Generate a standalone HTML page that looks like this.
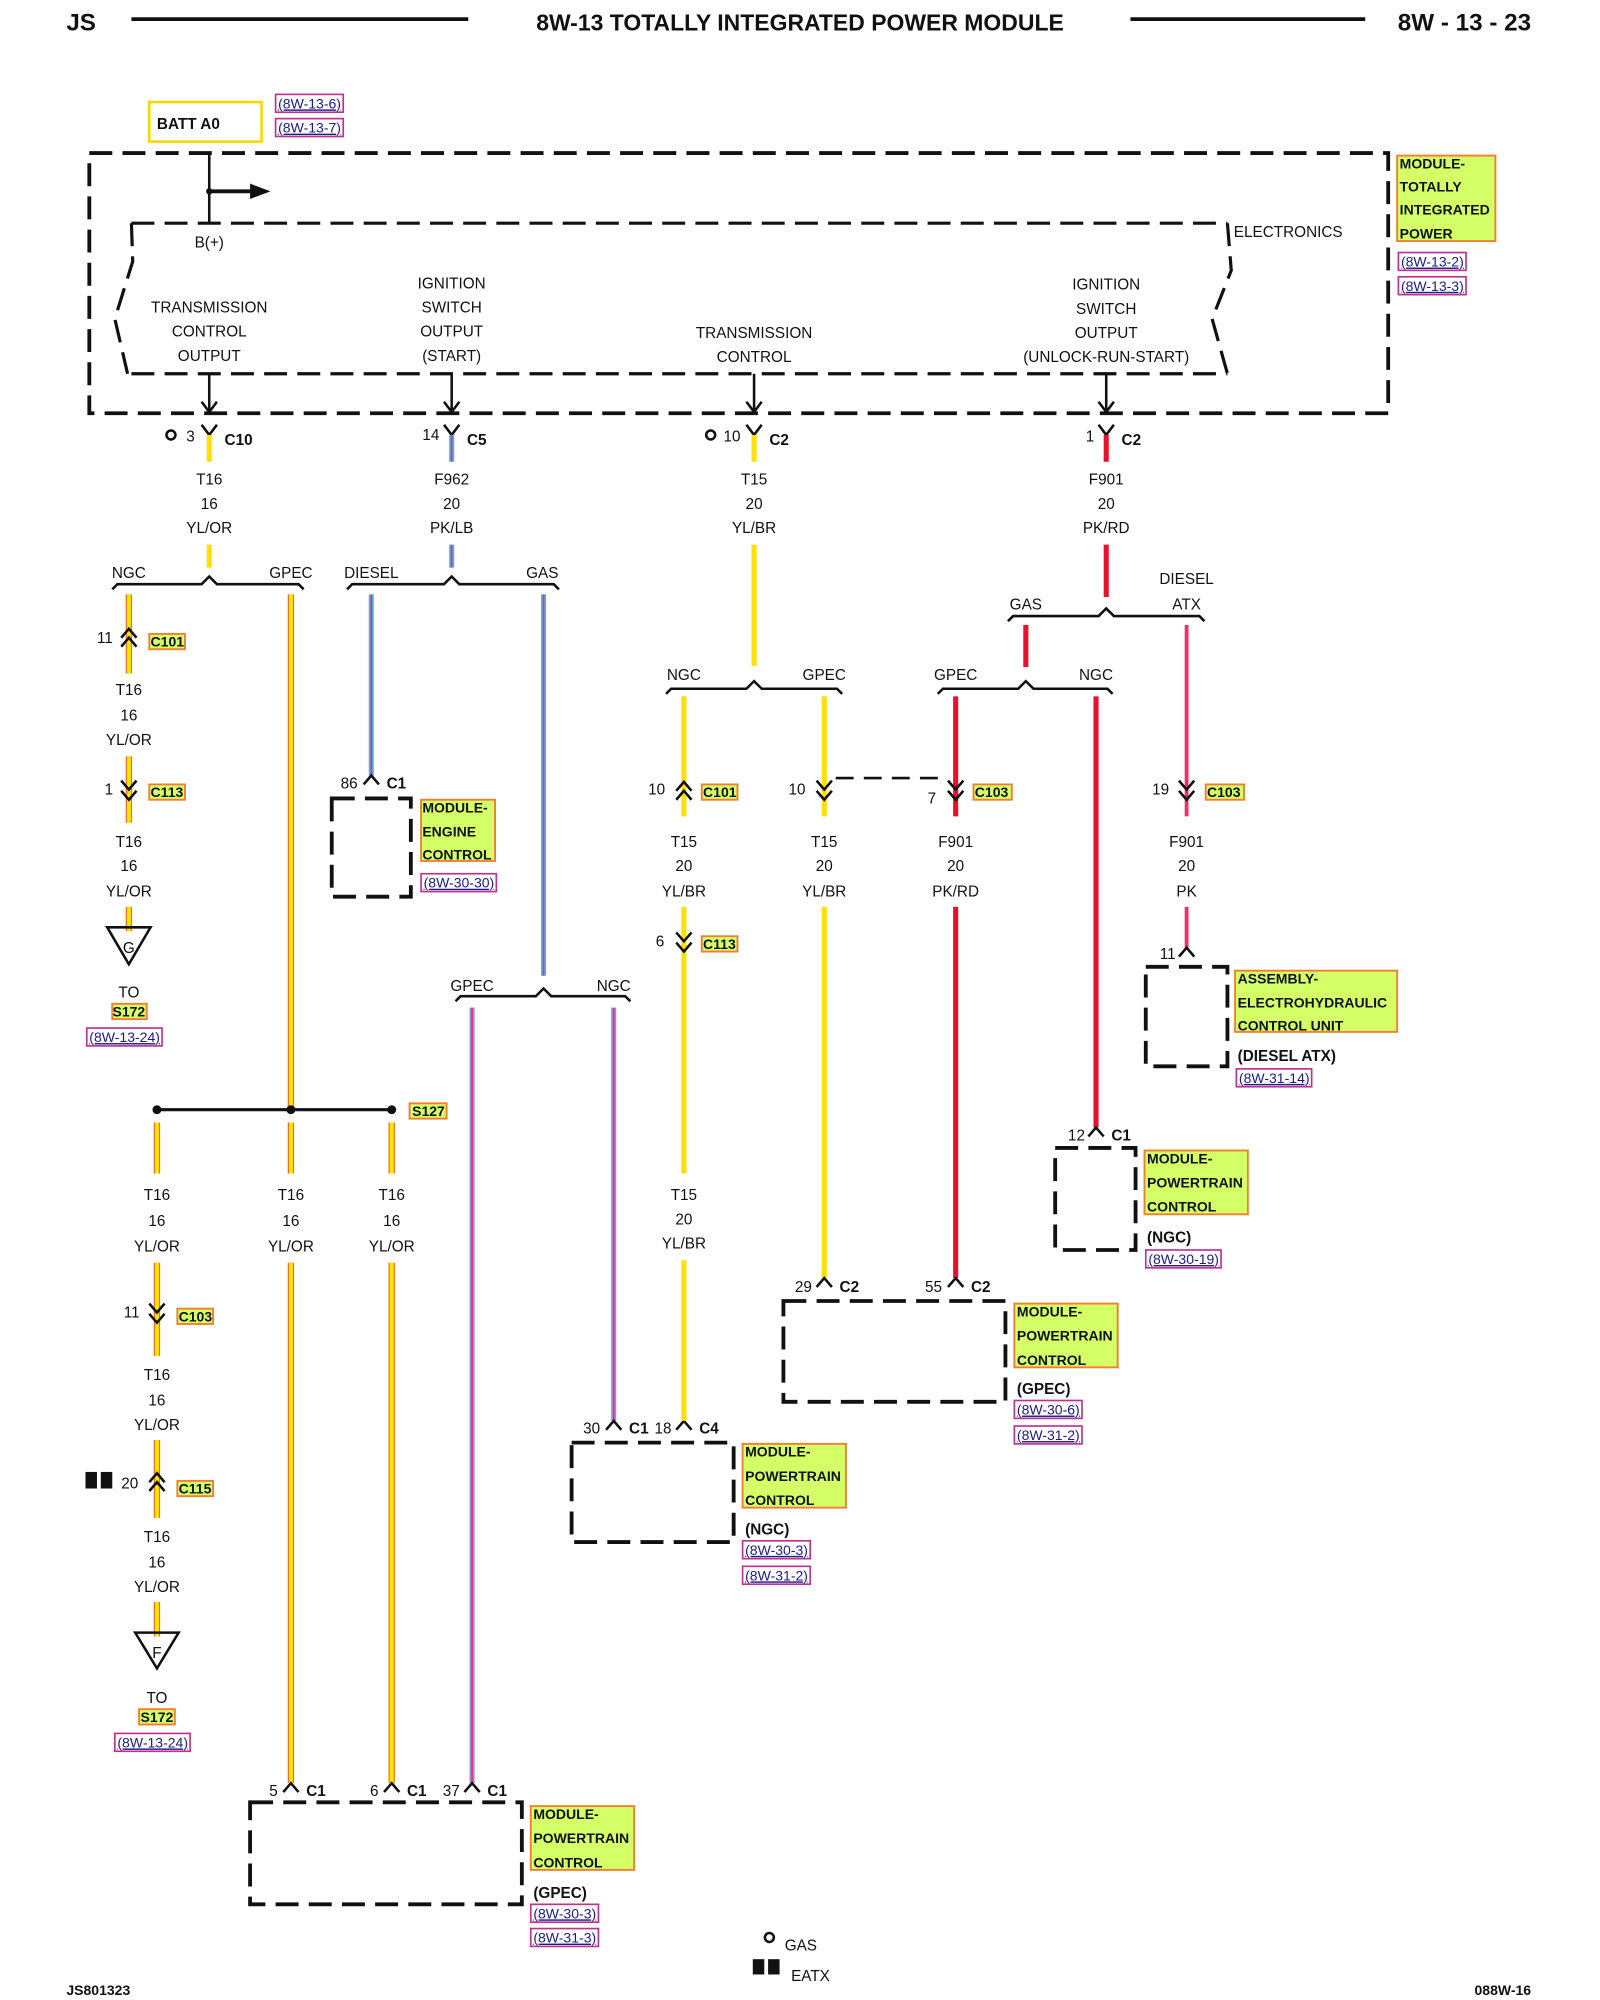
<!DOCTYPE html>
<html><head><meta charset="utf-8"><style>
html,body{margin:0;padding:0;background:#fff;}
svg{display:block;}
text{font-family:"Liberation Sans",sans-serif;font-size:12px;fill:#111;}
.m{text-anchor:middle;}
.b{font-weight:bold;}
.h{font-weight:bold;font-size:19px;}
.r{font-size:11px;fill:#1a1a8c;text-decoration:underline;}
.d{fill:none;stroke:#111;stroke-width:3;stroke-dasharray:18 8;}
.k{fill:none;stroke:#111;stroke-width:2;}
.hl{fill:#d4ff66;stroke:#f08030;stroke-width:1.5;}
.rb{fill:none;stroke:#c03090;stroke-width:1.3;}
.yo1{stroke:#f07020;stroke-width:5;}
.yo2{stroke:#ffe800;stroke-width:3;}
.yb{stroke:#ffe000;stroke-width:4;}
.rd{stroke:#e8102a;stroke-width:4;}
.pk{stroke:#f0306a;stroke-width:3;}
.lb{stroke:#40b8f0;stroke-width:4;}
.lbp{stroke:#f0306a;stroke-width:1.3;}
</style></head><body>
<svg width="1600" height="2000" viewBox="0 0 1254 1568" preserveAspectRatio="none" xmlns="http://www.w3.org/2000/svg">
<!-- header -->
<text x="52" y="24" class="h">JS</text>
<line x1="103" y1="15" x2="367" y2="15" stroke="#111" stroke-width="3"/>
<text x="627" y="24" class="h m" style="font-size:18px">8W-13 TOTALLY INTEGRATED POWER MODULE</text>
<line x1="886" y1="15" x2="1070" y2="15" stroke="#111" stroke-width="3"/>
<text x="1200" y="24" class="h" text-anchor="end">8W - 13 - 23</text>

<!-- BATT -->
<rect x="117" y="80" width="88" height="31" fill="none" stroke="#f5d800" stroke-width="2"/>
<text x="123" y="101" class="b">BATT A0</text>
<rect x="216" y="74" width="53" height="14" class="rb"/><text x="218" y="85" class="r">(8W-13-6)</text>
<rect x="216" y="93" width="53" height="14" class="rb"/><text x="218" y="104" class="r">(8W-13-7)</text>

<!-- module outline -->
<rect x="70" y="120" width="1018" height="204" class="d"/>
<line x1="164" y1="120" x2="164" y2="175" stroke="#111" stroke-width="2"/>
<circle cx="164" cy="150" r="2.5" fill="#111"/>
<line x1="164" y1="150" x2="198" y2="150" stroke="#111" stroke-width="3"/>
<path d="M196 144 L212 150 L196 156 Z" fill="#111"/>
<path d="M103 175 L962 175 M103 293 L962 293" class="d" style="stroke-width:2.5"/>
<path d="M103 175 L104 205 L90 250 L100 293" class="d" style="stroke-width:2.5"/>
<path d="M962 175 L965 212 L950 250 L962 293" class="d" style="stroke-width:2.5"/>
<text x="967" y="186">ELECTRONICS</text>
<text x="164" y="194" class="m">B(+)</text>
<text x="164" y="245" class="m">TRANSMISSION</text><text x="164" y="264" class="m">CONTROL</text><text x="164" y="283" class="m">OUTPUT</text>
<text x="354" y="226" class="m">IGNITION</text><text x="354" y="245" class="m">SWITCH</text><text x="354" y="264" class="m">OUTPUT</text><text x="354" y="283" class="m">(START)</text>
<text x="591" y="265" class="m">TRANSMISSION</text><text x="591" y="284" class="m">CONTROL</text>
<text x="867" y="227" class="m">IGNITION</text><text x="867" y="246" class="m">SWITCH</text><text x="867" y="265" class="m">OUTPUT</text><text x="867" y="284" class="m">(UNLOCK-RUN-START)</text>
<g class="k">
<path d="M164 293 V323 M158 315 L164 323 L170 315"/>
<path d="M354 293 V323 M348 315 L354 323 L360 315"/>
<path d="M591 293 V323 M585 315 L591 323 L597 315"/>
<path d="M867 293 V323 M861 315 L867 323 L873 315"/>
</g>
<rect x="1095" y="122" width="77" height="67" class="hl"/>
<text x="1097" y="132" class="b" style="font-size:11px">MODULE-</text>
<text x="1097" y="150" class="b" style="font-size:11px">TOTALLY</text>
<text x="1097" y="168" class="b" style="font-size:11px">INTEGRATED</text>
<text x="1097" y="187" class="b" style="font-size:11px">POWER</text>
<rect x="1096" y="198" width="53" height="14" class="rb"/><text x="1098" y="209" class="r">(8W-13-2)</text>
<rect x="1096" y="217" width="53" height="14" class="rb"/><text x="1098" y="228" class="r">(8W-13-3)</text>

<!-- top connectors -->
<g class="k">
<path d="M158 333 L164 341 L170 333"/><path d="M348 333 L354 341 L360 333"/>
<path d="M585 333 L591 341 L597 333"/><path d="M861 333 L867 341 L873 333"/>
</g>
<line x1="164" y1="341" x2="164" y2="362" class="yb"/>
<line x1="354" y1="341" x2="354" y2="362" class="lb"/><line x1="354" y1="341" x2="354" y2="362" class="lbp"/>
<line x1="591" y1="341" x2="591" y2="362" class="yb"/>
<line x1="867" y1="341" x2="867" y2="362" class="rd"/>
<circle cx="134" cy="341" r="3.5" fill="none" stroke="#111" stroke-width="2"/>
<text x="146" y="346">3</text><text x="176" y="349" class="b">C10</text>
<text x="331" y="345">14</text><text x="366" y="349" class="b">C5</text>
<circle cx="557" cy="341" r="3.5" fill="none" stroke="#111" stroke-width="2"/>
<text x="567" y="346">10</text><text x="603" y="349" class="b">C2</text>
<text x="851" y="346">1</text><text x="879" y="349" class="b">C2</text>
<text x="164" y="380" class="m">T16</text><text x="164" y="399" class="m">16</text><text x="164" y="418" class="m">YL/OR</text>
<text x="354" y="380" class="m">F962</text><text x="354" y="399" class="m">20</text><text x="354" y="418" class="m">PK/LB</text>
<text x="591" y="380" class="m">T15</text><text x="591" y="399" class="m">20</text><text x="591" y="418" class="m">YL/BR</text>
<text x="867" y="380" class="m">F901</text><text x="867" y="399" class="m">20</text><text x="867" y="418" class="m">PK/RD</text>
<line x1="164" y1="427" x2="164" y2="445" class="yb"/>
<line x1="354" y1="427" x2="354" y2="445" class="lb"/><line x1="354" y1="427" x2="354" y2="445" class="lbp"/>
<line x1="591" y1="427" x2="591" y2="522" class="yb"/>
<line x1="867" y1="427" x2="867" y2="468" class="rd"/>

<!-- braces -->
<g class="k">
<path d="M88 462 L92 458 L158 458 L164 452 L170 458 L234 458 L238 462"/>
<path d="M272 462 L276 458 L348 458 L354 452 L360 458 L434 458 L438 462"/>
<path d="M357 785 L361 781 L420 781 L426 775 L432 781 L490 781 L494 785"/>
<path d="M522 544 L526 540 L585 540 L591 534 L597 540 L656 540 L660 544"/>
<path d="M790 487 L794 483 L861 483 L867 477 L873 483 L940 483 L944 487"/>
<path d="M735 544 L739 540 L798 540 L804 534 L810 540 L868 540 L872 544"/>
</g>
<text x="101" y="453" class="m">NGC</text><text x="228" y="453" class="m">GPEC</text>
<text x="291" y="453" class="m">DIESEL</text><text x="425" y="453" class="m">GAS</text>
<text x="370" y="777" class="m">GPEC</text><text x="481" y="777" class="m">NGC</text>
<text x="536" y="533" class="m">NGC</text><text x="646" y="533" class="m">GPEC</text>
<text x="804" y="478" class="m">GAS</text><text x="930" y="458" class="m">DIESEL</text><text x="930" y="478" class="m">ATX</text>
<text x="749" y="533" class="m">GPEC</text><text x="859" y="533" class="m">NGC</text>

<!-- NGC left column -->
<line x1="101" y1="466" x2="101" y2="528" class="yo1"/><line x1="101" y1="466" x2="101" y2="528" class="yo2"/>
<path d="M95 500 L101 493 L107 500 M95 507 L101 500 L107 507" class="k"/>
<text x="76" y="504">11</text>
<rect x="117" y="497" width="28" height="12" class="hl"/><text x="118" y="507" class="b" style="font-size:11px">C101</text>
<text x="101" y="545" class="m">T16</text><text x="101" y="565" class="m">16</text><text x="101" y="584" class="m">YL/OR</text>
<line x1="101" y1="593" x2="101" y2="645" class="yo1"/><line x1="101" y1="593" x2="101" y2="645" class="yo2"/>
<path d="M95 612 L101 619 L107 612 M95 620 L101 627 L107 620" class="k"/>
<text x="82" y="623">1</text>
<rect x="117" y="615" width="28" height="12" class="hl"/><text x="118" y="625" class="b" style="font-size:11px">C113</text>
<text x="101" y="664" class="m">T16</text><text x="101" y="683" class="m">16</text><text x="101" y="703" class="m">YL/OR</text>
<line x1="101" y1="711" x2="101" y2="730" class="yo1"/><line x1="101" y1="711" x2="101" y2="730" class="yo2"/>
<path d="M84 727 L118 727 L101 756 Z" class="k"/>
<text x="101" y="747" class="m">G</text>
<text x="101" y="782" class="m">TO</text>
<rect x="88" y="787" width="27" height="12" class="hl"/><text x="101" y="797" class="m b" style="font-size:11px">S172</text>
<rect x="68" y="806" width="59" height="14" class="rb"/><text x="70" y="817" class="r">(8W-13-24)</text>

<!-- GPEC left -->
<line x1="228" y1="466" x2="228" y2="868" class="yo1"/><line x1="228" y1="466" x2="228" y2="868" class="yo2"/>
<line x1="123" y1="870" x2="307" y2="870" stroke="#111" stroke-width="2.5"/>
<circle cx="123" cy="870" r="3.5" fill="#111"/><circle cx="228" cy="870" r="3.5" fill="#111"/><circle cx="307" cy="870" r="3.5" fill="#111"/>
<rect x="321" y="865" width="29" height="12" class="hl"/><text x="323" y="875" class="b" style="font-size:11px">S127</text>
<g>
<line x1="123" y1="880" x2="123" y2="920" class="yo1"/><line x1="123" y1="880" x2="123" y2="920" class="yo2"/>
<line x1="228" y1="880" x2="228" y2="920" class="yo1"/><line x1="228" y1="880" x2="228" y2="920" class="yo2"/>
<line x1="307" y1="880" x2="307" y2="920" class="yo1"/><line x1="307" y1="880" x2="307" y2="920" class="yo2"/>
</g>
<text x="123" y="941" class="m">T16</text><text x="123" y="961" class="m">16</text><text x="123" y="981" class="m">YL/OR</text>
<text x="228" y="941" class="m">T16</text><text x="228" y="961" class="m">16</text><text x="228" y="981" class="m">YL/OR</text>
<text x="307" y="941" class="m">T16</text><text x="307" y="961" class="m">16</text><text x="307" y="981" class="m">YL/OR</text>
<line x1="123" y1="990" x2="123" y2="1063" class="yo1"/><line x1="123" y1="990" x2="123" y2="1063" class="yo2"/>
<path d="M117 1022 L123 1029 L129 1022 M117 1030 L123 1037 L129 1030" class="k"/>
<text x="97" y="1033">11</text>
<rect x="139" y="1026" width="28" height="12" class="hl"/><text x="140" y="1036" class="b" style="font-size:11px">C103</text>
<text x="123" y="1082" class="m">T16</text><text x="123" y="1102" class="m">16</text><text x="123" y="1121" class="m">YL/OR</text>
<line x1="123" y1="1129" x2="123" y2="1190" class="yo1"/><line x1="123" y1="1129" x2="123" y2="1190" class="yo2"/>
<path d="M117 1162 L123 1155 L129 1162 M117 1169 L123 1162 L129 1169" class="k"/>
<rect x="67" y="1154" width="9" height="13" fill="#111"/><rect x="79" y="1154" width="9" height="13" fill="#111"/>
<text x="95" y="1167">20</text>
<rect x="139" y="1161" width="28" height="12" class="hl"/><text x="140" y="1171" class="b" style="font-size:11px">C115</text>
<text x="123" y="1209" class="m">T16</text><text x="123" y="1229" class="m">16</text><text x="123" y="1248" class="m">YL/OR</text>
<line x1="123" y1="1256" x2="123" y2="1283" class="yo1"/><line x1="123" y1="1256" x2="123" y2="1283" class="yo2"/>
<path d="M106 1280 L140 1280 L123 1308 Z" class="k"/>
<text x="123" y="1300" class="m">F</text>
<text x="123" y="1335" class="m">TO</text>
<rect x="109" y="1340" width="28" height="12" class="hl"/><text x="123" y="1350" class="m b" style="font-size:11px">S172</text>
<rect x="90" y="1359" width="59" height="14" class="rb"/><text x="92" y="1370" class="r">(8W-13-24)</text>
<line x1="228" y1="990" x2="228" y2="1398" class="yo1"/><line x1="228" y1="990" x2="228" y2="1398" class="yo2"/>
<line x1="307" y1="990" x2="307" y2="1398" class="yo1"/><line x1="307" y1="990" x2="307" y2="1398" class="yo2"/>
<line x1="370" y1="790" x2="370" y2="1398" class="lb" style="stroke:#9090e0"/><line x1="370" y1="790" x2="370" y2="1398" class="lbp"/>
<g class="k">
<path d="M222 1405 L228 1398 L234 1405"/><path d="M301 1405 L307 1398 L313 1405"/><path d="M364 1405 L370 1398 L376 1405"/>
</g>
<text x="211" y="1408">5</text><text x="240" y="1408" class="b">C1</text>
<text x="290" y="1408">6</text><text x="319" y="1408" class="b">C1</text>
<text x="347" y="1408">37</text><text x="382" y="1408" class="b">C1</text>
<rect x="196" y="1413" width="213" height="80" class="d"/>
<rect x="416" y="1416" width="81" height="50" class="hl"/>
<text x="418" y="1426" class="b" style="font-size:11px">MODULE-</text>
<text x="418" y="1445" class="b" style="font-size:11px">POWERTRAIN</text>
<text x="418" y="1464" class="b" style="font-size:11px">CONTROL</text>
<text x="418" y="1488" class="b">(GPEC)</text>
<rect x="416" y="1493" width="53" height="14" class="rb"/><text x="418" y="1504" class="r">(8W-30-3)</text>
<rect x="416" y="1512" width="53" height="14" class="rb"/><text x="418" y="1523" class="r">(8W-31-3)</text>

<!-- DIESEL/GAS -->
<line x1="291" y1="466" x2="291" y2="608" class="lb"/><line x1="291" y1="466" x2="291" y2="608" class="lbp"/>
<path d="M285 615 L291 608 L297 615" class="k"/>
<text x="267" y="618">86</text><text x="303" y="618" class="b">C1</text>
<rect x="260" y="626" width="62" height="77" class="d"/>
<rect x="330" y="627" width="58" height="48" class="hl"/>
<text x="331" y="637" class="b" style="font-size:11px">MODULE-</text>
<text x="331" y="656" class="b" style="font-size:11px">ENGINE</text>
<text x="331" y="674" class="b" style="font-size:11px">CONTROL</text>
<rect x="330" y="685" width="59" height="14" class="rb"/><text x="332" y="696" class="r">(8W-30-30)</text>
<line x1="426" y1="466" x2="426" y2="765" class="lb"/><line x1="426" y1="466" x2="426" y2="765" class="lbp"/>
<line x1="481" y1="790" x2="481" y2="1114" class="lb" style="stroke:#9090e0"/><line x1="481" y1="790" x2="481" y2="1114" class="lbp"/>
<path d="M475 1121 L481 1114 L487 1121 M530 1121 L536 1114 L542 1121" class="k"/>
<text x="457" y="1124">30</text><text x="493" y="1124" class="b">C1</text>
<text x="513" y="1124">18</text><text x="548" y="1124" class="b">C4</text>
<rect x="448" y="1131" width="127" height="78" class="d"/>
<rect x="582" y="1132" width="81" height="50" class="hl"/>
<text x="584" y="1142" class="b" style="font-size:11px">MODULE-</text>
<text x="584" y="1161" class="b" style="font-size:11px">POWERTRAIN</text>
<text x="584" y="1180" class="b" style="font-size:11px">CONTROL</text>
<text x="584" y="1203" class="b">(NGC)</text>
<rect x="582" y="1208" width="53" height="14" class="rb"/><text x="584" y="1219" class="r">(8W-30-3)</text>
<rect x="582" y="1228" width="53" height="14" class="rb"/><text x="584" y="1239" class="r">(8W-31-2)</text>

<!-- col 591 -->
<line x1="536" y1="546" x2="536" y2="640" class="yb"/>
<path d="M530 620 L536 613 L542 620 M530 627 L536 620 L542 627" class="k"/>
<text x="508" y="623">10</text>
<rect x="550" y="615" width="28" height="12" class="hl"/><text x="551" y="625" class="b" style="font-size:11px">C101</text>
<text x="536" y="664" class="m">T15</text><text x="536" y="683" class="m">20</text><text x="536" y="703" class="m">YL/BR</text>
<line x1="536" y1="711" x2="536" y2="920" class="yb"/>
<path d="M530 731 L536 738 L542 731 M530 739 L536 746 L542 739" class="k"/>
<text x="514" y="742">6</text>
<rect x="550" y="734" width="28" height="12" class="hl"/><text x="551" y="744" class="b" style="font-size:11px">C113</text>
<text x="536" y="941" class="m">T15</text><text x="536" y="960" class="m">20</text><text x="536" y="979" class="m">YL/BR</text>
<line x1="536" y1="988" x2="536" y2="1114" class="yb"/>
<line x1="646" y1="546" x2="646" y2="640" class="yb"/>
<path d="M640 612 L646 619 L652 612 M640 620 L646 627 L652 620" class="k"/>
<text x="618" y="623">10</text>
<line x1="655" y1="610" x2="738" y2="610" stroke="#111" stroke-width="2" stroke-dasharray="14 8"/>
<text x="646" y="664" class="m">T15</text><text x="646" y="683" class="m">20</text><text x="646" y="703" class="m">YL/BR</text>
<line x1="646" y1="711" x2="646" y2="1002" class="yb"/>

<!-- col 867 -->
<line x1="804" y1="490" x2="804" y2="523" class="rd"/>
<line x1="749" y1="546" x2="749" y2="640" class="rd"/>
<path d="M743 612 L749 619 L755 612 M743 620 L749 627 L755 620" class="k"/>
<text x="727" y="630">7</text>
<rect x="763" y="615" width="30" height="12" class="hl"/><text x="764" y="625" class="b" style="font-size:11px">C103</text>
<text x="749" y="664" class="m">F901</text><text x="749" y="683" class="m">20</text><text x="749" y="703" class="m">PK/RD</text>
<line x1="749" y1="711" x2="749" y2="1002" class="rd"/>
<path d="M640 1009 L646 1002 L652 1009 M743 1009 L749 1002 L755 1009" class="k"/>
<text x="623" y="1013">29</text><text x="658" y="1013" class="b">C2</text>
<text x="725" y="1013">55</text><text x="761" y="1013" class="b">C2</text>
<rect x="614" y="1020" width="174" height="79" class="d"/>
<rect x="795" y="1022" width="81" height="50" class="hl"/>
<text x="797" y="1032" class="b" style="font-size:11px">MODULE-</text>
<text x="797" y="1051" class="b" style="font-size:11px">POWERTRAIN</text>
<text x="797" y="1070" class="b" style="font-size:11px">CONTROL</text>
<text x="797" y="1093" class="b">(GPEC)</text>
<rect x="795" y="1098" width="53" height="14" class="rb"/><text x="797" y="1109" class="r">(8W-30-6)</text>
<rect x="795" y="1118" width="53" height="14" class="rb"/><text x="797" y="1129" class="r">(8W-31-2)</text>

<line x1="859" y1="546" x2="859" y2="884" class="rd"/>
<path d="M853 891 L859 884 L865 891" class="k"/>
<text x="837" y="894">12</text><text x="871" y="894" class="b">C1</text>
<rect x="827" y="900" width="63" height="80" class="d"/>
<rect x="897" y="902" width="81" height="50" class="hl"/>
<text x="899" y="912" class="b" style="font-size:11px">MODULE-</text>
<text x="899" y="931" class="b" style="font-size:11px">POWERTRAIN</text>
<text x="899" y="950" class="b" style="font-size:11px">CONTROL</text>
<text x="899" y="974" class="b">(NGC)</text>
<rect x="898" y="980" width="59" height="14" class="rb"/><text x="900" y="991" class="r">(8W-30-19)</text>

<line x1="930" y1="490" x2="930" y2="640" class="pk"/>
<path d="M924 612 L930 619 L936 612 M924 620 L930 627 L936 620" class="k"/>
<text x="903" y="623">19</text>
<rect x="945" y="615" width="30" height="12" class="hl"/><text x="946" y="625" class="b" style="font-size:11px">C103</text>
<text x="930" y="664" class="m">F901</text><text x="930" y="683" class="m">20</text><text x="930" y="703" class="m">PK</text>
<line x1="930" y1="711" x2="930" y2="743" class="pk"/>
<path d="M924 750 L930 743 L936 750" class="k"/>
<text x="909" y="752">11</text>
<rect x="898" y="758" width="64" height="78" class="d"/>
<rect x="968" y="761" width="127" height="48" class="hl"/>
<text x="970" y="771" class="b" style="font-size:11px">ASSEMBLY-</text>
<text x="970" y="790" class="b" style="font-size:11px">ELECTROHYDRAULIC</text>
<text x="970" y="808" class="b" style="font-size:11px">CONTROL UNIT</text>
<text x="970" y="832" class="b">(DIESEL ATX)</text>
<rect x="969" y="838" width="59" height="14" class="rb"/><text x="971" y="849" class="r">(8W-31-14)</text>

<!-- footer -->
<circle cx="603" cy="1519" r="3.5" fill="none" stroke="#111" stroke-width="2"/>
<text x="615" y="1529">GAS</text>
<rect x="590" y="1536" width="9" height="12" fill="#111"/><rect x="602" y="1536" width="9" height="12" fill="#111"/>
<text x="620" y="1553">EATX</text>
<text x="52" y="1564" class="b" style="font-size:11px">JS801323</text>
<text x="1200" y="1564" class="b" text-anchor="end" style="font-size:11px">088W-16</text>
</svg>
</body></html>
